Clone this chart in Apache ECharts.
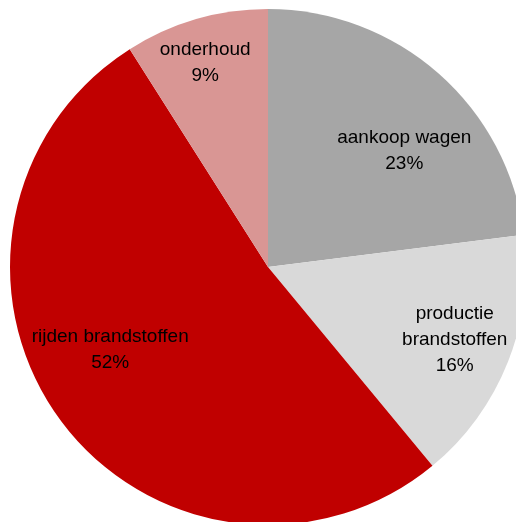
<!DOCTYPE html>
<html>
<head>
<meta charset="utf-8">
<script src="https://cdn.jsdelivr.net/npm/echarts@6/dist/echarts.min.js"></script>
<style>
html,body{margin:0;padding:0;background:#fff;}
#c{width:516px;height:522px;}
</style>
</head>
<body>
<div id="c"></div>
<script>
var categories = ['aankoop wagen', 'productie\nbrandstoffen', 'rijden brandstoffen', 'onderhoud'];
var values = [23, 16, 52, 9];
var colors = ['#A6A6A6', '#D9D9D9', '#C00000', '#D99694'];
var labelOffsets = [[49, -17], [64, 24], [-51, 5], [-26, -77]];

var chart = echarts.init(document.getElementById('c'));
var data = categories.map(function (n, i) {
  return {
    name: n,
    value: values[i],
    itemStyle: { color: colors[i] },
    label: { offset: labelOffsets[i] }
  };
});
chart.setOption({
  animation: false,
  series: [{
    type: 'pie',
    center: [268, 267],
    radius: [0, 258],
    startAngle: 90,
    clockwise: true,
    avoidLabelOverlap: false,
    itemStyle: { borderWidth: 0 },
    emphasis: { disabled: true },
    label: {
      show: true,
      position: 'inside',
      formatter: '{b}\n{d}%',
      color: '#000',
      fontFamily: '"Liberation Sans", Arial, sans-serif',
      fontSize: 19,
      lineHeight: 26,
      align: 'center'
    },
    labelLine: { show: false },
    data: data
  }]
});
</script>
</body>
</html>
